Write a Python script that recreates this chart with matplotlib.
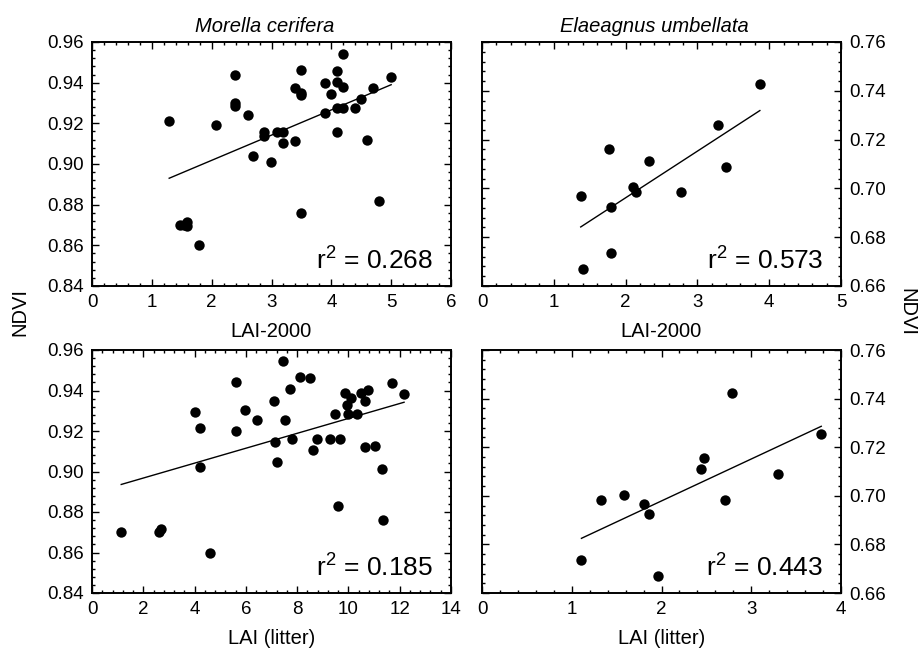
import numpy as np
import matplotlib
matplotlib.use('Agg')
import matplotlib.pyplot as plt
from matplotlib.ticker import AutoMinorLocator, MultipleLocator

plt.rcParams['font.family'] = ['Liberation Sans', 'DejaVu Sans']

# Morella cerifera, LAI-2000 vs NDVI
mc_lai2000 = [1.29, 1.47, 1.53, 1.59, 1.59, 1.79, 2.08, 2.39, 2.39, 2.39, 2.60, 2.69,
              2.88, 2.88, 2.99, 3.09, 3.19, 3.19, 3.40, 3.40, 3.49, 3.49, 3.49, 3.49,
              3.90, 3.90, 4.00, 4.10, 4.10, 4.10, 4.10, 4.20, 4.20, 4.20, 4.40, 4.50,
              4.59, 4.70, 4.80, 5.00]
mc_ndvi_a = [0.921, 0.870, 0.870, 0.8715, 0.8695, 0.860, 0.919, 0.944, 0.930, 0.9285,
             0.924, 0.904, 0.9157, 0.9138, 0.901, 0.9157, 0.9157, 0.9105, 0.9375, 0.9115,
             0.946, 0.935, 0.934, 0.876, 0.940, 0.925, 0.9346, 0.9456, 0.9403, 0.9277,
             0.9157, 0.954, 0.938, 0.9277, 0.9277, 0.932, 0.912, 0.9375, 0.882, 0.943]
mc_fit_a_x = [1.29, 5.0]
mc_fit_a_y = [0.893, 0.939]

# Elaeagnus umbellata, LAI-2000 vs NDVI
eu_lai2000 = [1.375, 1.41, 1.77, 1.79, 1.80, 2.11, 2.15, 2.32, 2.77, 3.29, 3.40, 3.87]
eu_ndvi_a = [0.697, 0.667, 0.716, 0.6925, 0.6734, 0.7004, 0.6986, 0.7114, 0.6986,
             0.7258, 0.7089, 0.7426]
eu_fit_a_x = [1.375, 3.87]
eu_fit_a_y = [0.6842, 0.7319]

# Morella cerifera, LAI (litter) vs NDVI
mc_litter = [1.14, 2.61, 2.70, 4.02, 4.21, 4.21, 4.60, 5.62, 5.62, 5.96, 6.45, 7.10,
             7.14, 7.21, 7.43, 7.51, 7.71, 7.80, 8.12, 8.51, 8.60, 8.77, 9.30, 9.49,
             9.59, 9.69, 9.85, 9.95, 9.98, 10.11, 10.35, 10.50, 10.63, 10.63, 10.77,
             11.03, 11.29, 11.34, 11.68, 12.17]
mc_ndvi_b = [0.8702, 0.8702, 0.8717, 0.9293, 0.9217, 0.9021, 0.8599, 0.9444, 0.9202,
             0.9304, 0.9255, 0.935, 0.9145, 0.9046, 0.9546, 0.9252, 0.9408, 0.9161,
             0.9468, 0.946, 0.9108, 0.9161, 0.9161, 0.9284, 0.8829, 0.9161, 0.9388,
             0.933, 0.9284, 0.9362, 0.9284, 0.9386, 0.935, 0.912, 0.9403, 0.9127,
             0.9013, 0.8762, 0.9436, 0.9383]
mc_fit_b_x = [1.14, 12.17]
mc_fit_b_y = [0.8936, 0.9342]

# Elaeagnus umbellata, LAI (litter) vs NDVI
eu_litter = [1.108, 1.323, 1.584, 1.803, 1.859, 1.963, 2.435, 2.472, 2.71, 2.79, 3.30, 3.78]
eu_ndvi_b = [0.6734, 0.6983, 0.7003, 0.6967, 0.6924, 0.6668, 0.7112, 0.7157, 0.6983,
             0.7422, 0.7088, 0.7256]
eu_fit_b_x = [1.108, 3.78]
eu_fit_b_y = [0.6825, 0.7286]

r2_labels = ['0.268', '0.573', '0.185', '0.443']

fig = plt.figure(figsize=(9.19, 6.5), dpi=100)

W = 359 / 919
ax_tl = fig.add_axes([92 / 919, 1 - 286 / 650, W, 244 / 650])
ax_tr = fig.add_axes([482 / 919, 1 - 286 / 650, W, 244 / 650])
ax_bl = fig.add_axes([92 / 919, 1 - 593 / 650, W, 243 / 650])
ax_br = fig.add_axes([482 / 919, 1 - 593 / 650, W, 243 / 650])

panels = [
    (ax_tl, mc_lai2000, mc_ndvi_a, mc_fit_a_x, mc_fit_a_y, (0, 6), 1, (0.84, 0.96), 'left'),
    (ax_tr, eu_lai2000, eu_ndvi_a, eu_fit_a_x, eu_fit_a_y, (0, 5), 1, (0.66, 0.76), 'right'),
    (ax_bl, mc_litter, mc_ndvi_b, mc_fit_b_x, mc_fit_b_y, (0, 14), 2, (0.84, 0.96), 'left'),
    (ax_br, eu_litter, eu_ndvi_b, eu_fit_b_x, eu_fit_b_y, (0, 4), 1, (0.66, 0.76), 'right'),
]

for (ax, x, y, fx, fy, xlim, xstep, ylim, side), r2 in zip(panels, r2_labels):
    ax.scatter(x, y, s=56, color='black', zorder=3, linewidths=0)
    ax.plot(fx, fy, color='black', lw=1.0)
    ax.set_xlim(*xlim)
    ax.set_ylim(*ylim)
    ax.xaxis.set_major_locator(MultipleLocator(xstep))
    ax.yaxis.set_major_locator(MultipleLocator(0.02))
    ax.xaxis.set_minor_locator(AutoMinorLocator(5))
    ax.yaxis.set_minor_locator(AutoMinorLocator(5))
    ax.yaxis.set_major_formatter(plt.FormatStrFormatter('%.2f'))
    ax.tick_params(which='both', direction='in', top=True, right=True,
                   labelsize=13.5, width=1.0)
    ax.tick_params(axis='x', pad=6)
    ax.tick_params(axis='y', pad=6)
    ax.tick_params(which='major', length=5)
    ax.tick_params(which='minor', length=2.5)
    if side == 'right':
        ax.yaxis.tick_right()
        ax.tick_params(which='both', left=True)
    for sp in ax.spines.values():
        sp.set_linewidth(1.4)
    ax.text(0.95, 0.068, r'$\mathregular{r^2}$ = ' + r2, transform=ax.transAxes,
            ha='right', va='baseline', fontsize=19)

ax_tl.set_title('Morella cerifera', style='italic', fontsize=14.5, pad=7, x=0.48)
ax_tr.set_title('Elaeagnus umbellata', style='italic', fontsize=14.5, pad=7, x=0.48)
ax_tl.set_xlabel('LAI-2000', fontsize=14.5, labelpad=8)
ax_tr.set_xlabel('LAI-2000', fontsize=14.5, labelpad=8)
ax_bl.set_xlabel('LAI (litter)', fontsize=14.5, labelpad=8)
ax_br.set_xlabel('LAI (litter)', fontsize=14.5, labelpad=8)

fig.text(20 / 919, 1 - 312 / 650, 'NDVI', rotation=90, fontsize=14.5,
         ha='center', va='center')
fig.text(907 / 919, 1 - 312 / 650, 'NDVI', rotation=270, fontsize=14.5,
         ha='center', va='center')

fig.savefig('out.png', dpi=100)
